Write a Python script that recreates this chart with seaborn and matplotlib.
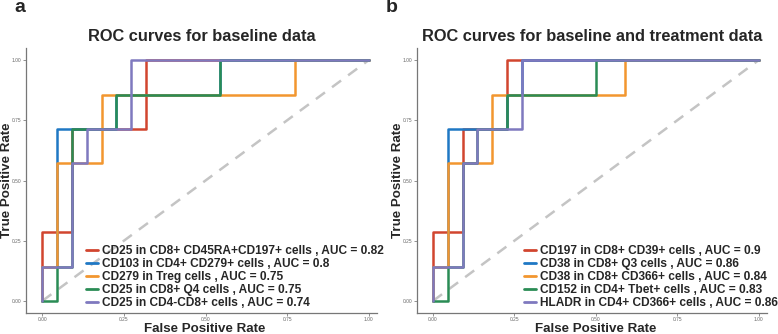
import pandas as pd
import matplotlib
matplotlib.use("Agg")
import matplotlib.pyplot as plt
import seaborn as sns

# ROC steps: 22 negatives, 7 positives
fpr_red_a = [0, 0, 0.0909, 0.0909, 0.3182, 0.3182, 1]
tpr_red_a = [0, 0.2857, 0.2857, 0.7143, 0.7143, 1, 1]
fpr_blue_a = [0, 0, 0.0455, 0.0455, 0.2273, 0.2273, 0.5455, 0.5455, 1]
tpr_blue_a = [0, 0.1429, 0.1429, 0.7143, 0.7143, 0.8571, 0.8571, 1, 1]
fpr_orange_a = [0, 0, 0.0455, 0.0455, 0.1818, 0.1818, 0.7727, 0.7727, 1]
tpr_orange_a = [0, 0.1429, 0.1429, 0.5714, 0.5714, 0.8571, 0.8571, 1, 1]
fpr_green_a = [0, 0.0455, 0.0455, 0.0909, 0.0909, 0.2273, 0.2273, 0.5455, 0.5455, 1]
tpr_green_a = [0, 0, 0.1429, 0.1429, 0.7143, 0.7143, 0.8571, 0.8571, 1, 1]
fpr_purple_a = [0, 0, 0.0909, 0.0909, 0.1364, 0.1364, 0.2727, 0.2727, 1]
tpr_purple_a = [0, 0.1429, 0.1429, 0.5714, 0.5714, 0.7143, 0.7143, 1, 1]

fpr_red_b = [0, 0, 0.0909, 0.0909, 0.2273, 0.2273, 1]
tpr_red_b = [0, 0.2857, 0.2857, 0.7143, 0.7143, 1, 1]
fpr_blue_b = [0, 0, 0.0455, 0.0455, 0.2273, 0.2273, 0.2727, 0.2727, 1]
tpr_blue_b = [0, 0.1429, 0.1429, 0.7143, 0.7143, 0.8571, 0.8571, 1, 1]
fpr_orange_b = [0, 0, 0.0455, 0.0455, 0.1818, 0.1818, 0.5909, 0.5909, 1]
tpr_orange_b = [0, 0.1429, 0.1429, 0.5714, 0.5714, 0.8571, 0.8571, 1, 1]
fpr_green_b = [0, 0.0455, 0.0455, 0.0909, 0.0909, 0.1364, 0.1364, 0.2273, 0.2273, 0.5, 0.5, 1]
tpr_green_b = [0, 0, 0.1429, 0.1429, 0.5714, 0.5714, 0.7143, 0.7143, 0.8571, 0.8571, 1, 1]
fpr_purple_b = [0, 0, 0.0909, 0.0909, 0.1364, 0.1364, 0.2727, 0.2727, 1]
tpr_purple_b = [0, 0.1429, 0.1429, 0.5714, 0.5714, 0.7143, 0.7143, 1, 1]

labels_a = ["CD25 in CD8+ CD45RA+CD197+ cells , AUC = 0.82",
            "CD103 in CD4+ CD279+ cells , AUC = 0.8",
            "CD279 in Treg cells , AUC = 0.75",
            "CD25 in CD8+ Q4 cells , AUC = 0.75",
            "CD25 in CD4-CD8+ cells , AUC = 0.74"]
labels_b = ["CD197 in CD8+ CD39+ cells , AUC = 0.9",
            "CD38 in CD8+ Q3 cells , AUC = 0.86",
            "CD38 in CD8+ CD366+ cells , AUC = 0.84",
            "CD152 in CD4+ Tbet+ cells , AUC = 0.83",
            "HLADR in CD4+ CD366+ cells , AUC = 0.86"]
colors = ["#D1452F", "#1F78C4", "#F2962F", "#2A8C55", "#7F79BF"]

ticks = [0, 0.25, 0.5, 0.75, 1]
tick_labels = ["0.00", "0.25", "0.50", "0.75", "1.00"]


def make_df(curves, labels):
    rows = []
    for (x, y), lab in zip(curves, labels):
        for a, b in zip(x, y):
            rows.append({"fpr": a, "tpr": b, "curve": lab})
    return pd.DataFrame(rows)


df_a = make_df([(fpr_red_a, tpr_red_a), (fpr_blue_a, tpr_blue_a),
                (fpr_orange_a, tpr_orange_a), (fpr_green_a, tpr_green_a),
                (fpr_purple_a, tpr_purple_a)], labels_a)
df_b = make_df([(fpr_red_b, tpr_red_b), (fpr_blue_b, tpr_blue_b),
                (fpr_orange_b, tpr_orange_b), (fpr_green_b, tpr_green_b),
                (fpr_purple_b, tpr_purple_b)], labels_b)

sns.set_style("white")
plt.rcParams["font.family"] = ["Liberation Sans", "DejaVu Sans"]

fig = plt.figure(figsize=(7.78, 3.34), dpi=100)
ax_a = fig.add_axes([0.0334, 0.063, 0.451, 0.793])
ax_b = fig.add_axes([0.5356, 0.063, 0.450, 0.793])

panels = [(ax_a, df_a, labels_a, "ROC curves for baseline data", 0.1105),
          (ax_b, df_b, labels_b, "ROC curves for baseline and treatment data", 0.6735)]

for ax, df, labels, title, leg_x in panels:
    ax.plot([0, 1], [0, 1], color="#C4C4C4", lw=1.8, dashes=(4.5, 3.5), zorder=1)
    sns.lineplot(data=df, x="fpr", y="tpr", hue="curve", hue_order=labels,
                 palette=colors, sort=False, estimator=None,
                 lw=1.8, ax=ax, zorder=2)
    ax.set_xlim(-0.05, 1.025)
    ax.set_ylim(-0.05, 1.05)
    ax.set_xticks(ticks)
    ax.set_xticklabels(tick_labels)
    ax.set_yticks(ticks)
    ax.set_yticklabels(tick_labels)
    ax.tick_params(labelsize=3.5, colors="#666666", length=2, width=0.5, pad=1.2,
                   bottom=True, left=True)
    for s in ["top", "right"]:
        ax.spines[s].set_visible(False)
    for s in ["left", "bottom"]:
        ax.spines[s].set_color("#777777")
        ax.spines[s].set_linewidth(0.9)
    ax.set_xlabel("False Positive Rate", fontsize=9.6, fontweight="bold", va="baseline")
    ax.xaxis.set_label_coords(0.51, -0.072)
    ax.set_ylabel("True Positive Rate", fontsize=9.6, fontweight="bold", va="center")
    ax.yaxis.set_label_coords(-0.054, 0.5)
    ax.set_title(title, fontsize=11.8, fontweight="bold", pad=5)
    leg = ax.legend(loc="lower left", bbox_to_anchor=(leg_x, 0.075),
                    bbox_transform=fig.transFigure, frameon=False,
                    handlelength=1.0, handletextpad=0.35, labelspacing=0.08,
                    borderaxespad=0, borderpad=0,
                    prop={"weight": "bold", "size": 8.6})
    for h in leg.get_lines():
        h.set_linewidth(2.0)

fig.text(0.019, 0.965, "a", fontsize=14, fontweight="bold", va="baseline")
fig.text(0.496, 0.965, "b", fontsize=14, fontweight="bold", va="baseline")

fig.savefig("out.png", dpi=100)
